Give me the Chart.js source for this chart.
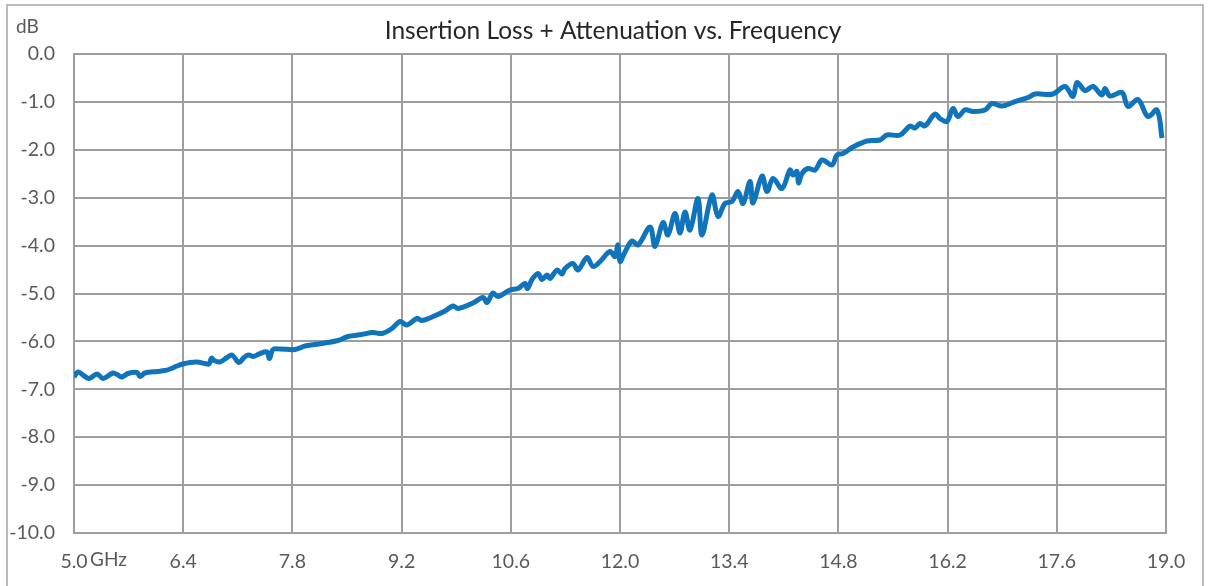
<!DOCTYPE html>
<html>
<head>
<meta charset="utf-8">
<script src="https://cdn.jsdelivr.net/npm/chart.js@4.4.0/dist/chart.umd.min.js"></script>
<style>
  html, body { margin: 0; padding: 0; background: #fff; }
  #wrap { width: 1209px; height: 586px; position: relative; }
</style>
</head>
<body>
<div id="wrap"><canvas id="chart" width="1209" height="586"></canvas></div>
<script>
// frequency in GHz
const freqGHz = [
  5.000, 5.051, 5.115, 5.192, 5.295, 5.372, 5.500, 5.564, 5.615, 5.692,
  5.808, 5.846, 5.910, 6.064, 6.167, 6.231, 6.321, 6.397, 6.487, 6.577,
  6.679, 6.731, 6.763, 6.795, 6.872, 6.962, 7.026, 7.115, 7.179, 7.237,
  7.301, 7.385, 7.474, 7.506, 7.551, 7.641, 7.833, 7.962, 8.173, 8.385,
  8.513, 8.686, 8.833, 8.949, 9.077, 9.179, 9.269, 9.397, 9.462, 9.590,
  9.756, 9.859, 9.923, 10.115, 10.244, 10.295, 10.372, 10.436, 10.590, 10.692,
  10.782, 10.814, 10.872, 10.949, 11.000, 11.064, 11.103, 11.192, 11.256, 11.295,
  11.397, 11.462, 11.577, 11.654, 11.744, 11.872, 11.936, 11.974, 12.000, 12.064,
  12.154, 12.231, 12.385, 12.449, 12.551, 12.615, 12.705, 12.769, 12.833, 12.897,
  13.000, 13.051, 13.179, 13.256, 13.346, 13.436, 13.513, 13.577, 13.667, 13.705,
  13.821, 13.885, 13.962, 14.077, 14.179, 14.218, 14.269, 14.288, 14.333, 14.410,
  14.500, 14.590, 14.718, 14.782, 14.859, 14.987, 15.167, 15.333, 15.423, 15.590,
  15.718, 15.782, 15.846, 15.910, 16.038, 16.103, 16.192, 16.269, 16.333, 16.423,
  16.526, 16.679, 16.769, 16.897, 17.064, 17.231, 17.321, 17.551, 17.705, 17.808,
  17.859, 17.962, 18.064, 18.179, 18.218, 18.282, 18.436, 18.513, 18.641, 18.769,
  18.885, 18.949
];

// insertion loss + attenuation in dB
const lossDb = [
  -6.743, -6.639, -6.701, -6.775, -6.681, -6.775, -6.660, -6.701, -6.743, -6.670,
  -6.649, -6.733, -6.660, -6.628, -6.608, -6.576, -6.514, -6.472, -6.441, -6.430,
  -6.461, -6.472, -6.347, -6.399, -6.430, -6.336, -6.284, -6.441, -6.336, -6.284,
  -6.315, -6.253, -6.221, -6.357, -6.169, -6.159, -6.169, -6.096, -6.044, -5.981,
  -5.898, -5.856, -5.814, -5.835, -5.731, -5.585, -5.658, -5.522, -5.564, -5.491,
  -5.365, -5.261, -5.313, -5.198, -5.084, -5.188, -4.990, -5.063, -4.927, -4.896,
  -4.791, -4.896, -4.708, -4.582, -4.708, -4.614, -4.687, -4.509, -4.593, -4.478,
  -4.374, -4.509, -4.248, -4.436, -4.332, -4.123, -4.228, -3.987, -4.332, -4.134,
  -3.904, -3.987, -3.612, -4.019, -3.518, -3.779, -3.330, -3.737, -3.299, -3.674,
  -3.017, -3.779, -2.944, -3.392, -3.121, -3.079, -2.871, -3.121, -2.662, -3.111,
  -2.547, -2.871, -2.599, -2.808, -2.422, -2.526, -2.453, -2.693, -2.495, -2.390,
  -2.422, -2.213, -2.317, -2.109, -2.077, -1.942, -1.816, -1.795, -1.691, -1.691,
  -1.503, -1.545, -1.451, -1.503, -1.253, -1.347, -1.409, -1.138, -1.305, -1.169,
  -1.200, -1.169, -1.033, -1.086, -0.992, -0.908, -0.835, -0.835, -0.678, -0.887,
  -0.595, -0.762, -0.678, -0.856, -0.720, -0.877, -0.804, -1.096, -0.950, -1.305,
  -1.169, -1.754
];

const freqTicks = [5.0, 6.4, 7.8, 9.2, 10.6, 12.0, 13.4, 14.8, 16.2, 17.6, 19.0];
const dbTicks = [0, -1, -2, -3, -4, -5, -6, -7, -8, -9, -10];

const chartTitle = "Insertion Loss + Attenuation vs. Frequency";
const xUnit = "GHz";
const yUnit = "dB";

const gridColor = "#9e9e9e";
const textColor = "#595959";
const fontFamily = "Lato, 'Noto Sans', sans-serif";

const points = freqGHz.map((f, i) => ({ x: f, y: lossDb[i] }));

// frame, title and unit labels
const decorations = {
  id: "decorations",
  beforeDraw(chart) {
    const c = chart.ctx;
    c.save();
    c.fillStyle = "#fff";
    c.fillRect(0, 0, chart.width, chart.height);
    c.strokeStyle = "#a6a6a6";
    c.lineWidth = 1.5;
    c.strokeRect(7, 5, 1196, 640);
    c.restore();
  },
  afterDraw(chart) {
    const c = chart.ctx;
    const area = chart.chartArea;
    c.save();
    c.fillStyle = "#262626";
    c.font = "24.5px " + fontFamily;
    c.textAlign = "center";
    c.textBaseline = "middle";
    c.fillText(chartTitle, 613, 31);
    c.fillStyle = textColor;
    c.font = "19px " + fontFamily;
    c.textAlign = "left";
    c.fillText(yUnit, 16, 27);
    c.fillText(xUnit, area.left + 16, 560);
    c.restore();
  }
};

new Chart(document.getElementById("chart"), {
  type: "line",
  data: {
    datasets: [{
      label: "Insertion Loss + Attenuation",
      data: points,
      borderColor: "#0f74bb",
      borderWidth: 5,
      pointRadius: 0,
      tension: 0.35,
      fill: false
    }]
  },
  options: {
    responsive: false,
    animation: false,
    layout: { padding: { top: 54, right: 43, left: 0, bottom: 0 } },
    plugins: {
      legend: { display: false },
      title: { display: false },
      tooltip: { enabled: false }
    },
    scales: {
      x: {
        type: "linear",
        min: 5,
        max: 19,
        afterBuildTicks: (scale) => { scale.ticks = freqTicks.map(v => ({ value: v })); },
        afterFit: (scale) => { scale.height = 53; },
        grid: { color: gridColor, lineWidth: 2, drawTicks: false },
        border: { color: gridColor, width: 2 },
        ticks: {
          padding: 17,
          color: textColor,
          font: { family: fontFamily, size: 19.5 },
          maxRotation: 0,
          callback: (v) => Number(v).toFixed(1)
        }
      },
      y: {
        min: -10,
        max: 0,
        afterBuildTicks: (scale) => { scale.ticks = dbTicks.map(v => ({ value: v })); },
        afterFit: (scale) => { scale.width = 74; },
        grid: { color: gridColor, lineWidth: 2, drawTicks: false },
        border: { color: gridColor, width: 2 },
        ticks: {
          padding: 19,
          color: textColor,
          font: { family: fontFamily, size: 19.5 },
          callback: (v) => Number(v).toFixed(1)
        }
      }
    }
  },
  plugins: [decorations]
});
</script>
</body>
</html>
